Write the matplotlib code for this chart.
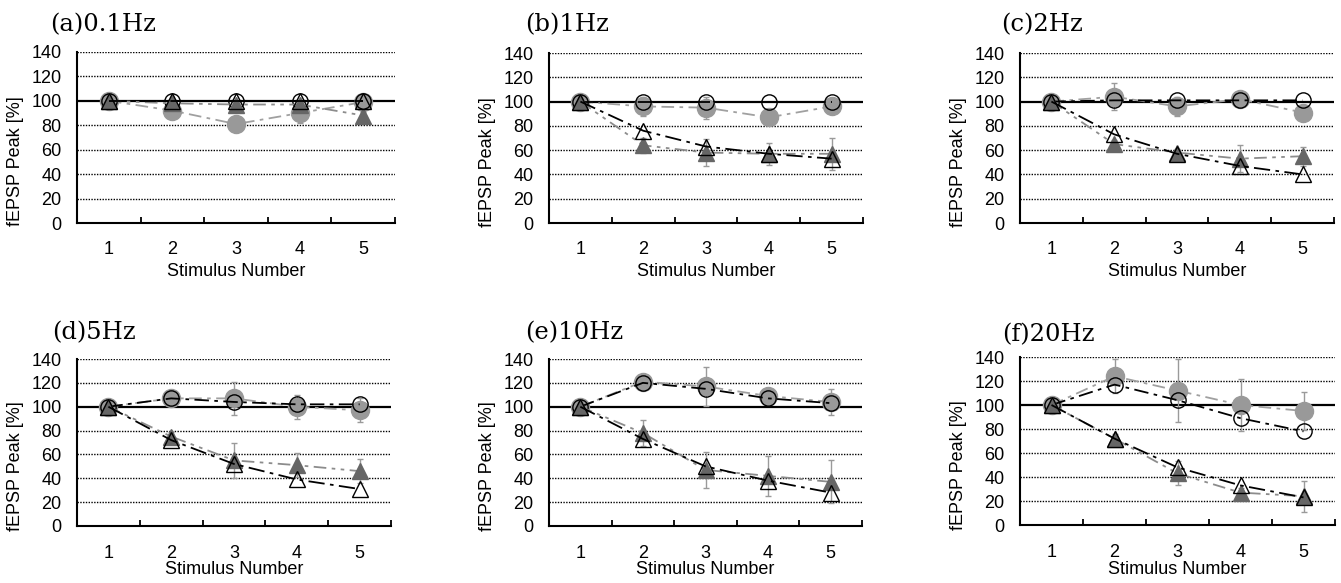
import numpy as np
import matplotlib
matplotlib.use("Agg")
import matplotlib.pyplot as plt

# данные (6 частот, 5 стимулов)
titles = ['(a)0.1Hz', '(b)1Hz', '(c)2Hz', '(d)5Hz', '(e)10Hz', '(f)20Hz']
stim = [1, 2, 3, 4, 5]
yticks = [0, 20, 40, 60, 80, 100, 120, 140]

open_circle = [[100, 100, 100, 100, 100],
               [100, 100, 100, 100, 100],
               [100, 101, 101, 101, 101],
               [100, 107, 104, 102, 102],
               [100, 120, 115, 107, 103],
               [100, 117, 104, 89, 78]]
gray_circle = [[100, 92, 81, 90, 99],
               [100, 96, 95, 87, 96],
               [100, 104, 96, 102, 91],
               [100, 107, 107, 100, 97],
               [100, 121, 117, 109, 104],
               [100, 124, 112, 100, 95]]
gray_circle_err = [[0, 3, 2, 8, 2],
                   [0, 8, 9, 3, 4],
                   [0, 11, 8, 3, 3],
                   [0, 3, 14, 10, 10],
                   [0, 3, 16, 4, 11],
                   [0, 14, 26, 22, 16]]
open_tri = [[100, 100, 100, 100, 100],
            [100, 76, 63, 57, 53],
            [100, 73, 57, 47, 40],
            [100, 72, 52, 39, 31],
            [100, 73, 50, 38, 28],
            [100, 72, 48, 33, 23]]
dark_tri = [[100, 98, 97, 97, 88],
            [100, 64, 58, 57, 57],
            [100, 65, 58, 53, 55],
            [100, 75, 55, 51, 46],
            [100, 78, 47, 42, 37],
            [100, 72, 43, 27, 24]]
dark_tri_err = [[0, 2, 2, 2, 3],
                [0, 6, 11, 9, 13],
                [0, 3, 3, 11, 8],
                [0, 4, 15, 10, 10],
                [0, 11, 15, 17, 18],
                [0, 4, 10, 4, 13]]

W, H = 1341, 583
fig = plt.figure(figsize=(W / 100, H / 100), dpi=100)

# положение осей в пикселях: left, top, right, bottom
boxes = [(77, 52, 395, 223), (549, 53, 863, 223), (1020, 53, 1334, 223),
         (77, 359, 391, 526), (549, 359, 862, 526), (1020, 357, 1335, 525)]
title_pos = [(50, 25), (525, 25), (1001, 25), (52, 333), (525, 333), (1002, 335)]

sans = 'Liberation Sans'
for k in range(6):
    l, t, r, b = boxes[k]
    ax = fig.add_axes([l / W, 1 - b / H, (r - l) / W, (b - t) / H])
    ax.set_xlim(0.5, 5.5)
    ax.set_ylim(0, 140)

    for g in yticks[1:]:
        if g == 100:
            ax.axhline(g, color='black', lw=1.6, zorder=1)
        else:
            ax.axhline(g, color='black', lw=1.0, ls=(0, (1, 1)), zorder=1)

    ax.errorbar(stim, gray_circle[k], yerr=gray_circle_err[k], fmt='none',
                ecolor='#9a9a9a', elinewidth=1, capsize=2, zorder=2)
    ax.errorbar(stim, dark_tri[k], yerr=dark_tri_err[k], fmt='none',
                ecolor='#9a9a9a', elinewidth=1, capsize=2, zorder=2)

    ax.plot(stim, gray_circle[k], color='#a0a0a0', lw=1.3, dashes=(7, 3, 2, 3),
            marker='o', ms=13, mfc='#999999', mec='#999999', zorder=3)
    ax.plot(stim, open_circle[k], color='black', lw=1.3, dashes=(8, 3, 2, 3),
            marker='o', ms=11, mfc='none', mec='black', mew=1.0, zorder=4)
    ax.plot(stim, dark_tri[k], color='#8c8c8c', lw=1.3, dashes=(7, 3, 2, 3, 2, 3),
            marker='^', ms=11.5, mfc='#666666', mec='#666666', zorder=5)
    ax.plot(stim, open_tri[k], color='black', lw=1.3, dashes=(9, 3, 2, 3),
            marker='^', ms=11.5, mfc='none', mec='black', mew=1.0, zorder=6)

    for s in ['top', 'right']:
        ax.spines[s].set_visible(False)
    for s in ['left', 'bottom']:
        ax.spines[s].set_linewidth(1.5)
        ax.spines[s].set_zorder(7)

    ax.set_yticks(yticks)
    ax.set_xticks(stim)
    ax.set_xticks(np.arange(1.5, 6, 1), minor=True)
    xpad = 13 if k < 3 else 13.5
    ax.tick_params(axis='y', length=0, pad=11, labelsize=13)
    ax.tick_params(axis='x', which='major', length=0, pad=xpad, labelsize=13)
    ax.tick_params(axis='x', which='minor', direction='in', length=4.5, width=1.3)
    for lab in ax.get_xticklabels() + ax.get_yticklabels():
        lab.set_family(sans)

    lbl_y = b + (49 if k < 3 else 44)
    fig.text((l + r) / 2 / W, 1 - lbl_y / H, 'Stimulus Number', family=sans,
             fontsize=13, ha='center', va='center')
    fig.text((l - 61) / W, 1 - ((t + b) / 2 + 24) / H, 'fEPSP Peak [%]',
             family=sans, fontsize=13, rotation=90, ha='center', va='center')
    tx, ty = title_pos[k]
    fig.text(tx / W, 1 - ty / H, titles[k], family='DejaVu Serif',
             fontsize=17.5, ha='left', va='center')

plt.savefig('out.png', dpi=100)
